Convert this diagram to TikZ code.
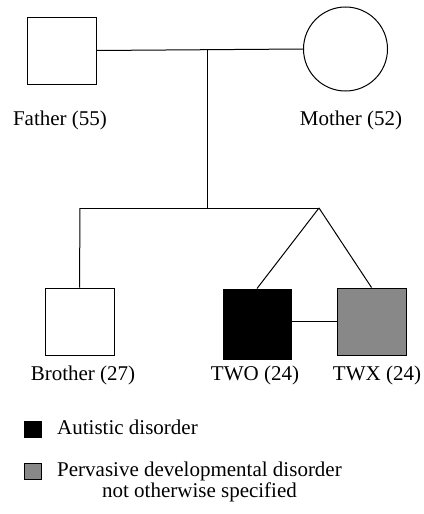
\documentclass[tikz,border=0pt]{standalone}
\usepackage{fontspec}
\setmainfont{Liberation Serif}
\usepackage{tikz}
\usetikzlibrary{positioning,calc}
\definecolor{pdd}{HTML}{888888}
\tikzset{male/.style={draw,rectangle,minimum width=69pt,minimum height=67pt,inner sep=0pt,line width=1pt},female/.style={draw,circle,minimum size=84pt,inner sep=0pt,line width=1pt},lbl/.style={anchor=base,inner sep=0pt,font=\fontsize{21}{18}\selectfont},key/.style={draw,rectangle,minimum width=17pt,minimum height=16pt,inner sep=0pt,line width=0.8pt},link/.style={line width=1pt}}

\begin{document}
\begin{tikzpicture}[x=1pt,y=-1pt]
\useasboundingbox (0,0) rectangle (423,514);
\node[male] (father) at (62,50.5) {};
\node[female] (mother) at (345.5,49) {};
\node[male] (brother) at (79.5,321.5) {};
\node[male,fill=black,minimum width=68pt,minimum height=70pt] (two) at (257,324) {};
\node[male,fill=pdd] (twx) at (371.5,321.5) {};
\coordinate (mate) at (207,50);
\coordinate (sibs) at (207,208);
\coordinate (sibleft) at (80,208);
\coordinate (apex) at (319,208);
\node[lbl] (fatherlbl) at (60,125) {Father (55)};
\node[lbl] (motherlbl) at (351,125) {Mother (52)};
\node[lbl] (brotherlbl) at (83,380) {Brother (27)};
\node[lbl] (twolbl) at (255,380) {TWO (24)};
\node[lbl] (twxlbl) at (377,380) {TWX (24)};
\node[key,fill=black] (keyad) at (33,429) {};
\node[key,fill=pdd] (keypdd) at (33,471.5) {};
\node[lbl,anchor=base west] (adtext) at (57,434) {Autistic disorder};
\node[lbl,anchor=base west,align=center] (pddtext) at (57,497) {Pervasive developmental disorder\\not otherwise specified};
\draw[link] (father.east) -- (mother.west);
\draw[link] (mate) -- (sibs);
\draw[link] (sibleft) -- (apex);
\draw[link] (sibleft) -- (brother.north);
\draw[link] (apex) -- (two.north);
\draw[link] (apex) -- (twx.north);
\draw[link] (two.east |- twx.west) -- (twx.west);
\end{tikzpicture}
\end{document}
